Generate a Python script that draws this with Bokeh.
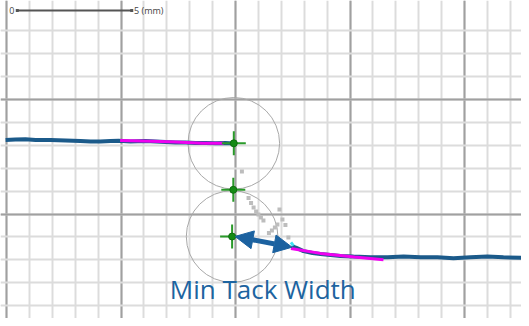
from bokeh.plotting import figure
from bokeh.models import Grid, SingleIntervalTicker, Arrow, NormalHead, Range1d
from bokeh.core.properties import value
from bokeh.embed import file_html
from bokeh.resources import INLINE

# ---- data (mm) ----
left_blue_x = [-10.04, -9.61, -9.17, -8.73, -8.08, -7.42, -6.77, -6.33, -5.90, -5.46, -5.11, -4.59,
               -3.93, -3.49, -3.06, -2.62, -2.18, -1.75, -1.31, -0.87, -0.44, -0.09]
left_blue_y = [3.23, 3.25, 3.26, 3.23, 3.23, 3.21, 3.19, 3.17, 3.17, 3.19, 3.20, 3.17,
               3.19, 3.17, 3.14, 3.12, 3.12, 3.10, 3.10, 3.09, 3.10, 3.08]
left_mag_x = [-5.04, -3.65, -2.60, -1.44, -0.52]
left_mag_y = [3.21, 3.18, 3.14, 3.09, 3.09]
right_blue_x = [2.45, 2.66, 2.97, 3.36, 3.71, 4.15, 4.59, 5.15, 5.90, 6.64, 7.34, 8.08, 8.82,
                9.52, 10.26, 11.00, 11.70, 12.58, 12.97]
right_blue_y = [-1.40, -1.48, -1.62, -1.70, -1.75, -1.79, -1.83, -1.86, -1.89, -1.89, -1.86, -1.89,
                -1.89, -1.93, -1.89, -1.86, -1.89, -1.91, -1.90]
right_mag_x = [2.42, 3.71, 5.20, 6.46]
right_mag_y = [-1.51, -1.72, -1.88, -2.00]
cyan_x = [2.42, 2.53]
cyan_y = [-1.24, -1.38]
dots_x = [0.28, 0.57, 0.68, 0.79, 0.90, 1.00, 1.11, 1.22, 1.92, 2.05, 2.18, 1.83, 1.72, 1.59, 1.46, 2.31]
dots_y = [1.86, 0.70, 0.48, 0.28, 0.11, -0.02, -0.15, -0.28, 0.20, -0.24, -0.48, -0.46, -0.59, -0.72, -0.83, -1.03]
cross_x = [-0.074, -0.096, -0.148]
cross_y = [3.087, 1.057, -0.983]
circle_x = [-0.074, -0.148]
circle_y = [3.087, -0.983]
circle_r = [2.0, 2.0]
arrow_start = (-0.02, -0.98)
arrow_end = (2.47, -1.45)
label_text = "Min Tack Width"
label_pos = (-2.87, -3.27)
scale_start = -9.53
scale_len = 5.0
scale_y = 8.886
scale_labels = ["0", "5 (mm)"]

p = figure(width=521, height=318, output_backend="svg", toolbar_location=None,
           x_range=Range1d(-10.262, 12.489), y_range=Range1d(-4.563, 9.323),
           x_axis_location=None, y_axis_location=None, min_border=0,
           outline_line_color=None, background_fill_color="white", border_fill_color="white")

gx = Grid(dimension=0, ticker=SingleIntervalTicker(interval=5, num_minor_ticks=5),
          grid_line_color="#a0a0a0", grid_line_width=2,
          minor_grid_line_color="#dcdcdc", minor_grid_line_width=2)
gy = Grid(dimension=1, ticker=SingleIntervalTicker(interval=5, num_minor_ticks=5),
          bounds=(-10, 8.9),
          grid_line_color="#a0a0a0", grid_line_width=2,
          minor_grid_line_color="#dcdcdc", minor_grid_line_width=2)
p.add_layout(gx)
p.add_layout(gy)

# circles
p.circle(x=circle_x, y=circle_y, radius=circle_r, fill_color=None, line_color="#a8a8a8", line_width=1)

# gray dots
p.scatter(x=dots_x, y=dots_y, marker="square", size=4, fill_color="#bdbdbd", line_color=None)

# curves
p.line(left_blue_x, left_blue_y, line_color="#1b5a8a", line_width=4)
p.line(left_mag_x, left_mag_y, line_color="#f000f0", line_width=3)
p.line(right_blue_x, right_blue_y, line_color="#1b5a8a", line_width=4)
p.line(right_mag_x, right_mag_y, line_color="#f000f0", line_width=3)
p.line(cyan_x, cyan_y, line_color="#40e0f0", line_width=3)

# crosses
p.scatter(x=cross_x, y=cross_y, marker="cross", size=24, line_color="#2a9a2a", line_width=2)
p.scatter(x=cross_x, y=cross_y, marker="circle", size=7, fill_color="#148a14", line_color="#0e6e0e")

# arrow
p.add_layout(Arrow(x_start=arrow_start[0], y_start=arrow_start[1], x_end=arrow_end[0], y_end=arrow_end[1],
                   line_color="#1c62a0", line_width=5,
                   start=NormalHead(size=18, fill_color="#1c62a0", line_color="#1c62a0"),
                   end=NormalHead(size=18, fill_color="#1c62a0", line_color="#1c62a0")))

p.text(x=[label_pos[0]], y=[label_pos[1]], text=[label_text], text_font=value("Open Sans"),
       text_font_size="26px", text_color="#1d64a0", text_baseline="alphabetic", text_align="left")

# scale bar
p.segment(x0=[scale_start], y0=[scale_y], x1=[scale_start + scale_len], y1=[scale_y],
          line_color="#555555", line_width=2)
p.scatter(x=[scale_start, scale_start + scale_len], y=[scale_y, scale_y], marker="square", size=3,
          fill_color="#555555", line_color=None)
p.text(x=[scale_start - 0.12, scale_start + scale_len + 0.1], y=[scale_y, scale_y], text=scale_labels,
       text_font=value("Open Sans"), text_font_size="9px", text_color="#444444",
       text_baseline="middle", text_align=["right", "left"])

open("out.html", "w").write(file_html(p, INLINE))
